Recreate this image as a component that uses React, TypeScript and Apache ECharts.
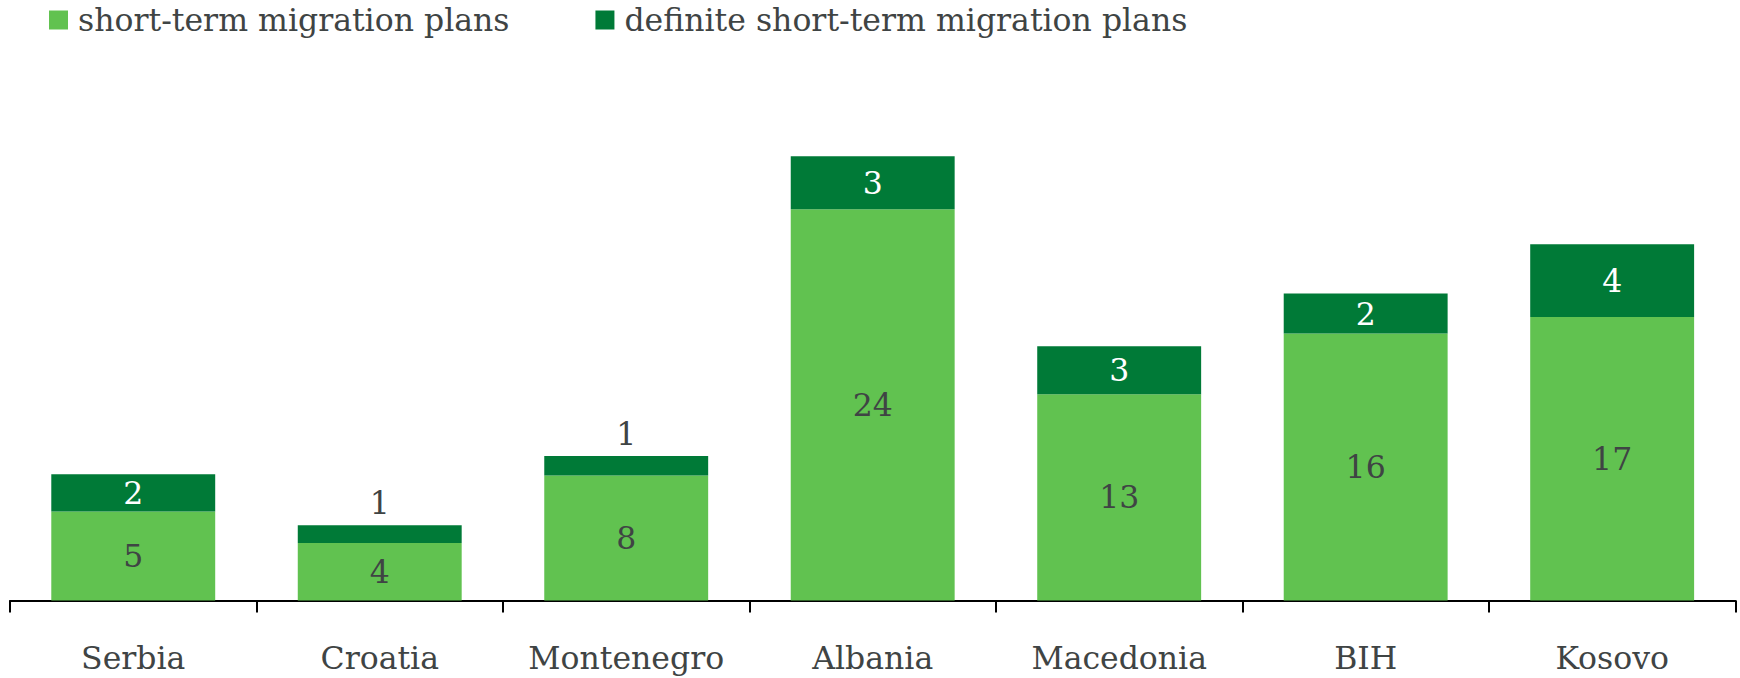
import React, { useEffect, useRef } from "react";
import * as echarts from "echarts";

const categories = ["Serbia", "Croatia", "Montenegro", "Albania", "Macedonia", "BIH", "Kosovo"];
const shortTermPlans = [5.46, 3.52, 7.67, 24.0, 12.66, 16.38, 17.4];
const definitePlans = [2.29, 1.09, 1.2, 3.25, 2.94, 2.45, 4.46];
const seriesNames = ["short-term migration plans", "definite short-term migration plans"];

const LIGHT = "#61C250";
const DARK = "#007A37";
const TEXT = "#3F4444";
const FONT = "DejaVu Serif";
const FS = 31.5;

export default function App() {
  const ref = useRef<HTMLDivElement>(null);
  useEffect(() => {
    if (!ref.current) return;
    const chart = echarts.init(ref.current, null, { renderer: "svg" });
    const fmt = (p: any) => String(Math.round(p.value as number));
    chart.setOption({
      animation: false,
      backgroundColor: "#ffffff",
      textStyle: { fontFamily: FONT },
      legend: {
        data: seriesNames,
        left: 49,
        top: 4,
        padding: 0,
        itemWidth: 19,
        itemHeight: 19,
        itemGap: 86,
        icon: "rect",
        textStyle: { fontFamily: FONT, fontSize: FS, color: TEXT, padding: [0, 0, 0, 5] },
      },
      grid: { left: 10, right: 4.6, top: 111.5, bottom: 77.5, containLabel: false },
      xAxis: {
        type: "category",
        data: categories,
        axisLine: { lineStyle: { color: "#000000", width: 2 } },
        axisTick: { show: true, interval: 0, length: 12, lineStyle: { color: "#000000", width: 2 } },
        axisLabel: { interval: 0, fontFamily: FONT, fontSize: FS, color: TEXT, margin: 41 },
      },
      yAxis: {
        type: "value",
        min: 0,
        max: 30,
        show: false,
        splitLine: { show: false },
      },
      series: [
        {
          name: seriesNames[0],
          type: "bar",
          stack: "total",
          barCategoryGap: "33.5%",
          itemStyle: { color: LIGHT },
          label: {
            show: true,
            position: "inside",
            fontFamily: FONT,
            fontSize: FS,
            color: TEXT,
            formatter: fmt,
          },
          data: shortTermPlans,
        },
        {
          name: seriesNames[1],
          type: "bar",
          stack: "total",
          barCategoryGap: "33.5%",
          itemStyle: { color: DARK },
          label: {
            show: true,
            position: "inside",
            fontFamily: FONT,
            fontSize: FS,
            color: "#ffffff",
            formatter: fmt,
          },
          data: definitePlans.map((v) =>
            v < 1.5
              ? { value: v, label: { position: "top", color: TEXT, distance: 6 } }
              : { value: v }
          ),
        },
      ],
    });
    return () => chart.dispose();
  }, []);
  return (
    <div
      ref={ref}
      style={{ position: "fixed", left: 0, top: 0, width: 1740, height: 678 }}
    />
  );
}
